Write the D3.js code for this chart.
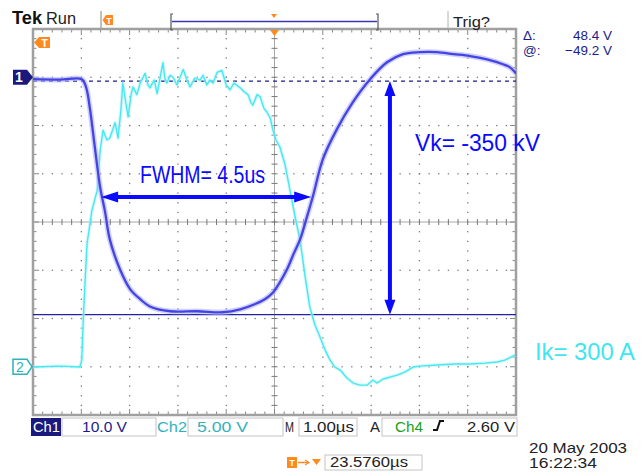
<!DOCTYPE html>
<html><head><meta charset="utf-8">
<script src="https://cdn.jsdelivr.net/npm/d3@7"></script>
<style>html,body{margin:0;padding:0;background:#fff;overflow:hidden}</style>
</head><body><svg id="c" width="643" height="474"></svg>
<script>
// ---- data (time in µs relative to trigger, values in volts) ----
const timeCh1 = [-5.00,-4.44,-3.99,-3.90,-3.82,-3.72,-3.61,-3.51,-3.41,-3.20,-2.99,-2.78,-2.58,-2.16,-1.60,-1.07,-0.71,-0.40,-0.20,-0.03,0.11,0.26,0.40,0.53,0.67,0.80,1.00,1.29,1.62,1.98,2.33,2.66,3.01,3.36,3.70,4.05,4.40,4.73,4.87,5.00];
const ch1Volts = [-0.4,-0.5,-0.4,-2.1,-6.6,-14.5,-22.8,-27.8,-33.6,-39.8,-43.9,-46.0,-47.5,-48.5,-48.5,-48.7,-48.1,-47.0,-46.0,-44.6,-42.5,-39.8,-36.5,-33.6,-29.0,-24.5,-17.0,-10.8,-5.2,-0.4,3.1,4.8,5.2,5.2,4.8,4.4,3.7,2.7,2.1,0.8];
const timeCh2 = [-5.00,-4.44,-4.03,-3.99,-3.96,-3.92,-3.88,-3.78,-3.67,-3.61,-3.55,-3.47,-3.41,-3.34,-3.30,-3.24,-3.18,-3.14,-3.07,-3.03,-2.97,-2.93,-2.85,-2.78,-2.68,-2.62,-2.58,-2.49,-2.43,-2.37,-2.31,-2.27,-2.23,-2.16,-2.10,-2.02,-1.89,-1.81,-1.75,-1.65,-1.54,-1.48,-1.40,-1.34,-1.27,-1.19,-1.09,-1.00,-0.92,-0.84,-0.71,-0.63,-0.55,-0.49,-0.45,-0.36,-0.30,-0.22,-0.16,-0.09,-0.03,0.03,0.11,0.22,0.32,0.42,0.53,0.63,0.73,0.84,0.94,1.05,1.15,1.25,1.36,1.50,1.63,1.77,1.92,2.04,2.12,2.25,2.54,2.70,2.87,3.01,3.36,3.74,4.05,4.36,4.61,4.77,4.98];
const ch2Volts = [-0.03,0.07,-0.03,0.69,4.8,9.0,12.8,16.2,18.3,22.4,24.5,23.5,23.7,24.7,25.3,23.7,26.6,29.4,27.1,25.9,28.2,29.0,28.2,29.4,30.4,29.2,28.9,29.7,28.3,29.9,31.5,29.9,29.4,30.2,30.0,29.2,30.8,29.7,29.0,29.9,29.7,30.2,29.2,29.7,29.4,30.5,30.7,29.2,28.7,29.4,28.9,28.5,28.2,27.4,27.1,28.2,28.0,26.8,26.4,25.8,24.5,23.5,22.8,20.9,18.3,15.7,13.1,9.5,6.2,4.3,3.1,1.7,0.69,-0.03,-0.34,-1.17,-1.69,-1.9,-1.9,-1.38,-1.69,-1.27,-0.86,-0.55,-0.03,0.07,0.18,0.28,0.28,0.38,0.49,0.69,1.21];
const ch1VoltsPerDiv = 10, ch2VoltsPerDiv = 5;
const ch1PositionDiv = 3, ch2PositionDiv = -3;
const cursorVolts = [-0.8, -49.2];
const fwhmTimes = [-3.59, 0.76];
const fwhmLevelVolts = -24.8;
const vkArrowTime = 2.39;
const fwhmLabel = "FWHM= 4.5us", vkLabel = "Vk= -350 kV", ikLabel = "Ik= 300 A";
const timeDomain = [-5, 5], divDomain = [-4, 4];

// ---- layout ----
const svg = d3.select("#c");
const L=33,R=516,T=29,B=415;
const x = d3.scaleLinear().domain(timeDomain).range([L,R]);
const y = d3.scaleLinear().domain(divDomain).range([B,T]);
const y1 = v => y(ch1PositionDiv + v/ch1VoltsPerDiv);
const y2 = v => y(ch2PositionDiv + v/ch2VoltsPerDiv);
const FONT = "'Liberation Sans', Arial, sans-serif";
const NAVY = "#1c1c8a", TEAL = "#2fb3bb", ORANGE = "#ff8a1e";

function txt(g, xx, yy, s, size, color, opts={}) {
  const t = g.append("text").attr("x",xx).attr("y",yy).text(s)
    .attr("font-family", opts.family || FONT).attr("font-size", size).attr("fill", color);
  if (opts.weight) t.attr("font-weight", opts.weight);
  if (opts.anchor) t.attr("text-anchor", opts.anchor);
  if (opts.len) t.attr("textLength", opts.len).attr("lengthAdjust","spacingAndGlyphs");
  return t;
}

// ---- grid ----
const grid = svg.append("g");
const minorT = d3.range(-5, 5.001, 0.2), minorD = d3.range(-4, 4.001, 0.2);
[-4,-3,-2,-1,1,2,3,4].forEach(t => minorD.forEach(d => grid.append("rect")
  .attr("x", x(t)-0.6).attr("y", y(d)-0.6).attr("width",1.3).attr("height",1.3).attr("fill","#7a7a7a")));
[-3,-2,-1,1,2,3].forEach(d => minorT.forEach(t => grid.append("rect")
  .attr("x", x(t)-0.6).attr("y", y(d)-0.6).attr("width",1.3).attr("height",1.3).attr("fill","#7a7a7a")));
grid.append("line").attr("x1",L).attr("x2",R).attr("y1",y(0)).attr("y2",y(0)).attr("stroke","#a8a8a8").attr("stroke-width",1);
grid.append("line").attr("y1",T).attr("y2",B).attr("x1",x(0)).attr("x2",x(0)).attr("stroke","#a8a8a8").attr("stroke-width",1);
minorT.forEach(t => grid.append("line").attr("x1",x(t)).attr("x2",x(t)).attr("y1",y(0)-3).attr("y2",y(0)+3).attr("stroke","#777"));
minorD.forEach(d => grid.append("line").attr("y1",y(d)).attr("y2",y(d)).attr("x1",x(0)-3).attr("x2",x(0)+3).attr("stroke","#777"));
minorT.forEach((t,i) => {
  const len = (i%5===0) ? 6 : 3.5;
  grid.append("line").attr("x1",x(t)).attr("x2",x(t)).attr("y1",T).attr("y2",T+len).attr("stroke","#888");
  grid.append("line").attr("x1",x(t)).attr("x2",x(t)).attr("y1",B).attr("y2",B-len).attr("stroke","#888");
});
minorD.forEach((d,i) => {
  const len = (i%5===0) ? 6 : 3.5;
  grid.append("line").attr("y1",y(d)).attr("y2",y(d)).attr("x1",L).attr("x2",L+len).attr("stroke","#888");
  grid.append("line").attr("y1",y(d)).attr("y2",y(d)).attr("x1",R).attr("x2",R-len).attr("stroke","#888");
});
grid.append("rect").attr("x",L).attr("y",T).attr("width",R-L).attr("height",B-T)
  .attr("fill","none").attr("stroke","#a0a0a0").attr("stroke-width",2.5);

// ---- cursors ----
svg.append("line").attr("x1",L).attr("x2",R).attr("y1",y1(cursorVolts[0])).attr("y2",y1(cursorVolts[0]))
  .attr("stroke",NAVY).attr("stroke-width",1.4).attr("stroke-dasharray","4,4");
svg.append("line").attr("x1",L).attr("x2",R).attr("y1",y1(cursorVolts[1])).attr("y2",y1(cursorVolts[1]))
  .attr("stroke","#2222a0").attr("stroke-width",1.4);

// ---- traces ----
svg.append("clipPath").attr("id","clip").append("rect").attr("x",L).attr("y",T).attr("width",R-L).attr("height",B-T);
const tr = svg.append("g").attr("clip-path","url(#clip)");
const ch2 = timeCh2.map((t,i)=>[t,ch2Volts[i]]);
const ch1 = timeCh1.map((t,i)=>[t,ch1Volts[i]]);
const line2 = d3.line().x(d=>x(d[0])).y(d=>y2(d[1]));
const line1 = d3.line().x(d=>x(d[0])).y(d=>y1(d[1])).curve(d3.curveCatmullRom);
tr.append("path").attr("d",line2(ch2)).attr("fill","none").attr("stroke","#b4f4f8").attr("stroke-width",3.5).attr("stroke-opacity",0.55).attr("stroke-linejoin","round");
tr.append("path").attr("d",line2(ch2)).attr("fill","none").attr("stroke","#48e8f0").attr("stroke-width",1.4).attr("stroke-linejoin","round");
tr.append("path").attr("d",line1(ch1)).attr("fill","none").attr("stroke","#b2b2f6").attr("stroke-width",5.5).attr("stroke-opacity",0.6);
tr.append("path").attr("d",line1(ch1)).attr("fill","none").attr("stroke","#4444e4").attr("stroke-width",2.3);

// ---- annotations ----
const BLUE = "#0a0aff";
const ann = svg.append("g");
const fy = y1(fwhmLevelVolts), fx0 = x(fwhmTimes[0]), fx1 = x(fwhmTimes[1]);
ann.append("line").attr("x1",fx0+14).attr("x2",fx1-14).attr("y1",fy).attr("y2",fy).attr("stroke",BLUE).attr("stroke-width",4);
ann.append("path").attr("d",`M${fx0},${fy} L${fx0+17},${fy-5.5} L${fx0+17},${fy+5.5} Z`).attr("fill",BLUE);
ann.append("path").attr("d",`M${fx1},${fy} L${fx1-17},${fy-5.5} L${fx1-17},${fy+5.5} Z`).attr("fill",BLUE);
const vx = x(vkArrowTime), vy0 = y1(cursorVolts[0]), vy1 = y1(cursorVolts[1]);
ann.append("line").attr("x1",vx).attr("x2",vx).attr("y1",vy0+12).attr("y2",vy1-12).attr("stroke",BLUE).attr("stroke-width",4);
ann.append("path").attr("d",`M${vx},${vy0} L${vx-5.5},${vy0+15} L${vx+5.5},${vy0+15} Z`).attr("fill",BLUE);
ann.append("path").attr("d",`M${vx},${vy1} L${vx-5.5},${vy1-15} L${vx+5.5},${vy1-15} Z`).attr("fill",BLUE);
txt(ann, 140, 183, fwhmLabel, 24, BLUE, {len:125});
txt(ann, 415, 151, vkLabel, 24, BLUE, {len:125});
txt(ann, 535, 360, ikLabel, 24, "#3ee6f0", {len:100});

// ---- markers ----
const mk = svg.append("g");
const m1 = y(ch1PositionDiv), m2 = y(ch2PositionDiv);
mk.append("path").attr("d",`M13,${m1-7.5} H27 L33,${m1} L27,${m1+7.5} H13 Z`).attr("fill","#1a1a7e");
txt(mk, 19, m1+5, "1", 14, "#fff", {weight:"bold", anchor:"middle"});
mk.append("path").attr("d",`M13,${m2-7.5} H27 L32,${m2} L27,${m2+7.5} H13 Z`).attr("fill","#fff").attr("stroke",TEAL).attr("stroke-width",1.5);
txt(mk, 20, m2+5, "2", 14, TEAL, {anchor:"middle"});
mk.append("path").attr("d",`M34,42.5 L39,37 H50 V48 H39 Z`).attr("fill",ORANGE);
txt(mk, 44.5, 47, "T", 11, "#fff", {weight:"bold", anchor:"middle"});
mk.append("path").attr("d",`M${x(0)-4.5},30 H${x(0)+4.5} L${x(0)},36 Z`).attr("fill",ORANGE);

// ---- header ----
const hd = svg.append("g");
txt(hd, 12, 24, "Tek", 18, "#111", {weight:"bold", len:30});
txt(hd, 46, 24, "Run", 16, "#222", {len:30});
hd.append("line").attr("x1",101).attr("x2",101).attr("y1",11).attr("y2",28).attr("stroke","#aaa").attr("stroke-width",1.5);
hd.append("line").attr("x1",448).attr("x2",448).attr("y1",11).attr("y2",28).attr("stroke","#ccc").attr("stroke-width",1.5);
hd.append("path").attr("d","M102.5,20 L106,15 H113 V25 H106 Z").attr("fill",ORANGE);
txt(hd, 109, 24, "T", 9, "#fff", {weight:"bold", anchor:"middle"});
hd.append("path").attr("d","M173,14 H171 V30 H173 M376,14 H378 V30 H376").attr("fill","none").attr("stroke","#555").attr("stroke-width",1.2);
hd.append("line").attr("x1",172).attr("x2",377).attr("y1",21.5).attr("y2",21.5).attr("stroke","#3a3ab0").attr("stroke-width",1.5);
hd.append("path").attr("d","M271,14 H277 L274,18 Z").attr("fill",ORANGE);
txt(hd, 453, 27, "Trig?", 15, "#222", {len:37});
txt(hd, 523, 40, "\u0394:", 13.5, NAVY);
txt(hd, 612, 40, (cursorVolts[0]-cursorVolts[1]).toFixed(1) + " V", 13.5, NAVY, {anchor:"end"});
txt(hd, 523, 55, "@:", 13.5, NAVY);
txt(hd, 612, 55, "\u2212" + Math.abs(cursorVolts[1]).toFixed(1) + " V", 13.5, NAVY, {anchor:"end"});

// ---- bottom status ----
const ft = svg.append("g");
const boxY = 418, boxH = 18, base = 432;
ft.append("rect").attr("x",31).attr("y",boxY).attr("width",30).attr("height",boxH).attr("fill","#1a1a7e");
txt(ft, 33, base, "Ch1", 15, "#fff", {len:27});
[[62,156],[188,283],[299,357],[382,517]].forEach(b => ft.append("rect").attr("x",b[0]).attr("y",boxY).attr("width",b[1]-b[0]).attr("height",boxH)
  .attr("fill","none").attr("stroke","#c4c4c4").attr("stroke-width",1));
txt(ft, 82, base, ch1VoltsPerDiv.toFixed(1)+" V", 15, NAVY, {len:45});
txt(ft, 157, base, "Ch2", 15, TEAL, {len:30});
txt(ft, 197, base, ch2VoltsPerDiv.toFixed(2)+" V", 15, TEAL, {len:51});
txt(ft, 285, base, "M", 15, "#222", {len:9});
txt(ft, 303, base, "1.00\u00b5s", 15, "#222", {len:51});
txt(ft, 370, base, "A", 15, "#222", {len:10});
txt(ft, 395, base, "Ch4", 15, "#1aa01a", {len:28});
ft.append("path").attr("d","M433,430 H437 L440,421 H444").attr("fill","none").attr("stroke","#111").attr("stroke-width",2);
txt(ft, 515, base, "2.60 V", 15, "#222", {anchor:"end", len:48});
ft.append("rect").attr("x",287).attr("y",457).attr("width",10).attr("height",11).attr("fill",ORANGE);
txt(ft, 292, 466, "T", 9, "#fff", {weight:"bold", anchor:"middle"});
ft.append("line").attr("x1",298).attr("x2",308).attr("y1",462.5).attr("y2",462.5).attr("stroke",ORANGE).attr("stroke-width",1.5);
ft.append("path").attr("d","M305,460 L309,462.5 L305,465").attr("fill","none").attr("stroke",ORANGE).attr("stroke-width",1.2);
ft.append("path").attr("d","M312,459 H321 L316.5,465 Z").attr("fill",ORANGE);
ft.append("rect").attr("x",325).attr("y",455).attr("width",97).attr("height",15).attr("fill","none").attr("stroke","#c4c4c4");
txt(ft, 330, 467, "23.5760\u00b5s", 15, "#222", {len:78});
txt(ft, 529, 453, "20 May 2003", 14, "#222", {len:98});
txt(ft, 529, 468, "16:22:34", 14, "#222", {len:68});
</script></body></html>
